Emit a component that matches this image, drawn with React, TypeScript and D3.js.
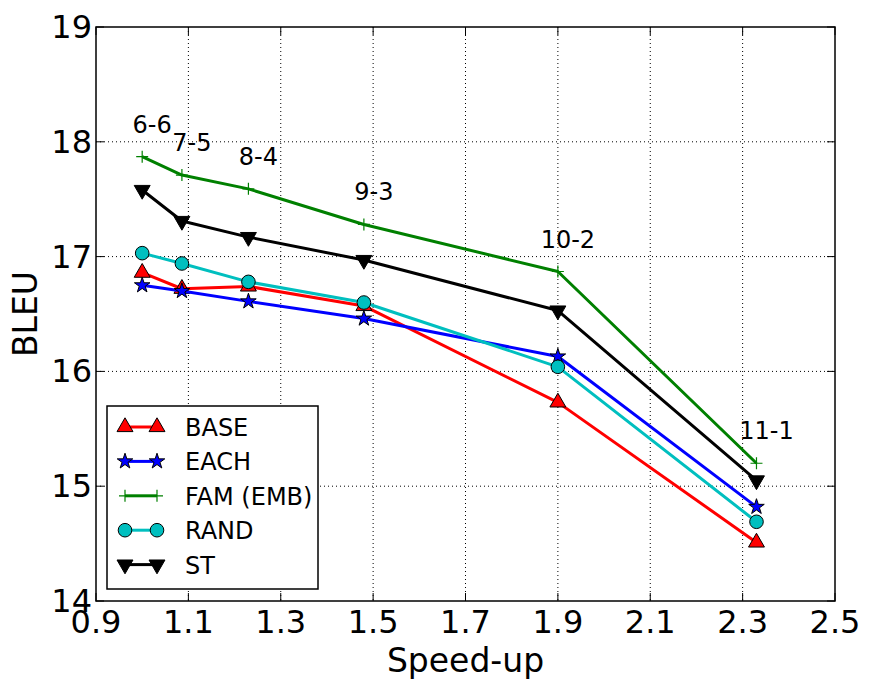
import * as d3 from "d3";
import React, { useEffect, useRef } from "react";

const speedup = [1.0, 1.086, 1.23, 1.48, 1.9, 2.33];
const layerLabels = ["6-6", "7-5", "8-4", "9-3", "10-2", "11-1"];

const base = [16.86, 16.72, 16.74, 16.57, 15.73, 14.51];
const each = [16.75, 16.7, 16.61, 16.46, 16.13, 14.82];
const famEmb = [17.87, 17.71, 17.59, 17.28, 16.87, 15.2];
const rand = [17.03, 16.94, 16.78, 16.6, 16.04, 14.69];
const st = [17.58, 17.31, 17.17, 16.97, 16.53, 15.05];

const xTicks = [0.9, 1.1, 1.3, 1.5, 1.7, 1.9, 2.1, 2.3, 2.5];
const yTicks = [14, 15, 16, 17, 18, 19];

type Series = {
  name: string;
  values: number[];
  color: string;
  marker: "triangle" | "star" | "plus" | "circle" | "triangleDown";
};

const series: Series[] = [
  { name: "BASE", values: base, color: "#ff0000", marker: "triangle" },
  { name: "EACH", values: each, color: "#0000ff", marker: "star" },
  { name: "FAM (EMB)", values: famEmb, color: "#008000", marker: "plus" },
  { name: "RAND", values: rand, color: "#00bfbf", marker: "circle" },
  { name: "ST", values: st, color: "#000000", marker: "triangleDown" },
];

const FONT = "'DejaVu Sans', sans-serif";

function drawMarker(
  g: d3.Selection<SVGGElement, unknown, null, undefined>,
  kind: Series["marker"],
  cx: number,
  cy: number,
  color: string
) {
  if (kind === "circle") {
    g.append("circle")
      .attr("cx", cx)
      .attr("cy", cy)
      .attr("r", 6.8)
      .attr("fill", color)
      .attr("stroke", "#000")
      .attr("stroke-width", 1);
  } else if (kind === "plus") {
    const s = 6;
    g.append("path")
      .attr("d", `M${cx - s},${cy}H${cx + s}M${cx},${cy - s}V${cy + s}`)
      .attr("stroke", color)
      .attr("stroke-width", 1.2)
      .attr("fill", "none");
  } else if (kind === "triangle" || kind === "triangleDown") {
    const sym = d3.symbol().type(d3.symbolTriangle).size(110);
    g.append("path")
      .attr("d", sym()!)
      .attr(
        "transform",
        `translate(${cx},${cy})${kind === "triangleDown" ? " rotate(180)" : ""}`
      )
      .attr("fill", color)
      .attr("stroke", "#000")
      .attr("stroke-width", 1);
  } else if (kind === "star") {
    const sym = d3.symbol().type(d3.symbolStar).size(75);
    g.append("path")
      .attr("d", sym()!)
      .attr("transform", `translate(${cx},${cy})`)
      .attr("fill", color)
      .attr("stroke", "#000")
      .attr("stroke-width", 1);
  }
}

export default function App() {
  const svgRef = useRef<SVGSVGElement | null>(null);

  useEffect(() => {
    const svg = d3.select(svgRef.current);
    svg.selectAll("*").remove();

    const W = 871;
    const H = 692;
    const margin = { top: 27, right: 36, bottom: 91, left: 96 };
    const width = W - margin.left - margin.right;
    const height = H - margin.top - margin.bottom;

    svg.attr("width", W).attr("height", H);
    svg.append("rect").attr("width", W).attr("height", H).attr("fill", "#fff");

    const g = svg
      .append("g")
      .attr("transform", `translate(${margin.left},${margin.top})`);

    const x = d3.scaleLinear().domain([0.9, 2.5]).range([0, width]);
    const y = d3.scaleLinear().domain([14, 19]).range([height, 0]);

    // grid
    g.selectAll(".gx")
      .data(xTicks.slice(1, -1))
      .enter()
      .append("line")
      .attr("x1", (d) => x(d))
      .attr("x2", (d) => x(d))
      .attr("y1", 0)
      .attr("y2", height)
      .attr("stroke", "#000")
      .attr("stroke-width", 1)
      .attr("stroke-dasharray", "1,3");
    g.selectAll(".gy")
      .data(yTicks.slice(1, -1))
      .enter()
      .append("line")
      .attr("x1", 0)
      .attr("x2", width)
      .attr("y1", (d) => y(d))
      .attr("y2", (d) => y(d))
      .attr("stroke", "#000")
      .attr("stroke-width", 1)
      .attr("stroke-dasharray", "1,3");

    // ticks (inside, all four sides)
    const tl = 8;
    xTicks.forEach((t) => {
      g.append("line")
        .attr("x1", x(t)).attr("x2", x(t))
        .attr("y1", height).attr("y2", height - tl)
        .attr("stroke", "#000");
      g.append("line")
        .attr("x1", x(t)).attr("x2", x(t))
        .attr("y1", 0).attr("y2", tl)
        .attr("stroke", "#000");
      g.append("text")
        .attr("x", x(t))
        .attr("y", height + 32)
        .attr("text-anchor", "middle")
        .attr("font-family", FONT)
        .attr("font-size", 32)
        .text(d3.format(".1f")(t));
    });
    yTicks.forEach((t) => {
      g.append("line")
        .attr("x1", 0).attr("x2", tl)
        .attr("y1", y(t)).attr("y2", y(t))
        .attr("stroke", "#000");
      g.append("line")
        .attr("x1", width).attr("x2", width - tl)
        .attr("y1", y(t)).attr("y2", y(t))
        .attr("stroke", "#000");
      g.append("text")
        .attr("x", -4)
        .attr("y", y(t) + 11)
        .attr("text-anchor", "end")
        .attr("font-family", FONT)
        .attr("font-size", 32)
        .text(t);
    });

    // series: line then markers, one series at a time
    const line = d3
      .line<number>()
      .x((_, i) => x(speedup[i]))
      .y((d) => y(d));

    series.forEach((s) => {
      const sg = g.append("g");
      sg.append("path")
        .datum(s.values)
        .attr("d", line)
        .attr("fill", "none")
        .attr("stroke", s.color)
        .attr("stroke-width", 3)
        .attr("stroke-linejoin", "round");
      s.values.forEach((v, i) => drawMarker(sg, s.marker, x(speedup[i]), y(v), s.color));
    });

    // annotations above FAM (EMB)
    layerLabels.forEach((lab, i) => {
      g.append("text")
        .attr("x", x(speedup[i]) + 10)
        .attr("y", y(famEmb[i]) - 24)
        .attr("text-anchor", "middle")
        .attr("font-family", FONT)
        .attr("font-size", 24)
        .text(lab);
    });

    // frame
    g.append("rect")
      .attr("width", width)
      .attr("height", height)
      .attr("fill", "none")
      .attr("stroke", "#000")
      .attr("stroke-width", 1.5);

    // legend
    const lg = svg.append("g").attr("transform", "translate(107,406)");
    lg.append("rect")
      .attr("width", 211)
      .attr("height", 183)
      .attr("fill", "#fff")
      .attr("stroke", "#000")
      .attr("stroke-width", 1.5);
    series.forEach((s, i) => {
      const cy = 21 + i * 34.4;
      lg.append("line")
        .attr("x1", 18).attr("x2", 50)
        .attr("y1", cy).attr("y2", cy)
        .attr("stroke", s.color)
        .attr("stroke-width", 3);
      const mg = lg.append("g");
      drawMarker(mg, s.marker, 18, cy, s.color);
      drawMarker(mg, s.marker, 50, cy, s.color);
      lg.append("text")
        .attr("x", 78)
        .attr("y", cy + 9)
        .attr("font-family", FONT)
        .attr("font-size", 24)
        .text(s.name);
    });

    // axis labels
    svg.append("text")
      .attr("x", margin.left + width / 2)
      .attr("y", 672)
      .attr("text-anchor", "middle")
      .attr("font-family", FONT)
      .attr("font-size", 33)
      .text("Speed-up");
    svg.append("text")
      .attr("transform", `translate(37,${margin.top + height / 2}) rotate(-90)`)
      .attr("text-anchor", "middle")
      .attr("font-family", FONT)
      .attr("font-size", 33)
      .text("BLEU");
  }, []);

  return (
    <div style={{ position: "absolute", left: 0, top: 0 }}>
      <svg ref={svgRef} style={{ display: "block" }} />
    </div>
  );
}
